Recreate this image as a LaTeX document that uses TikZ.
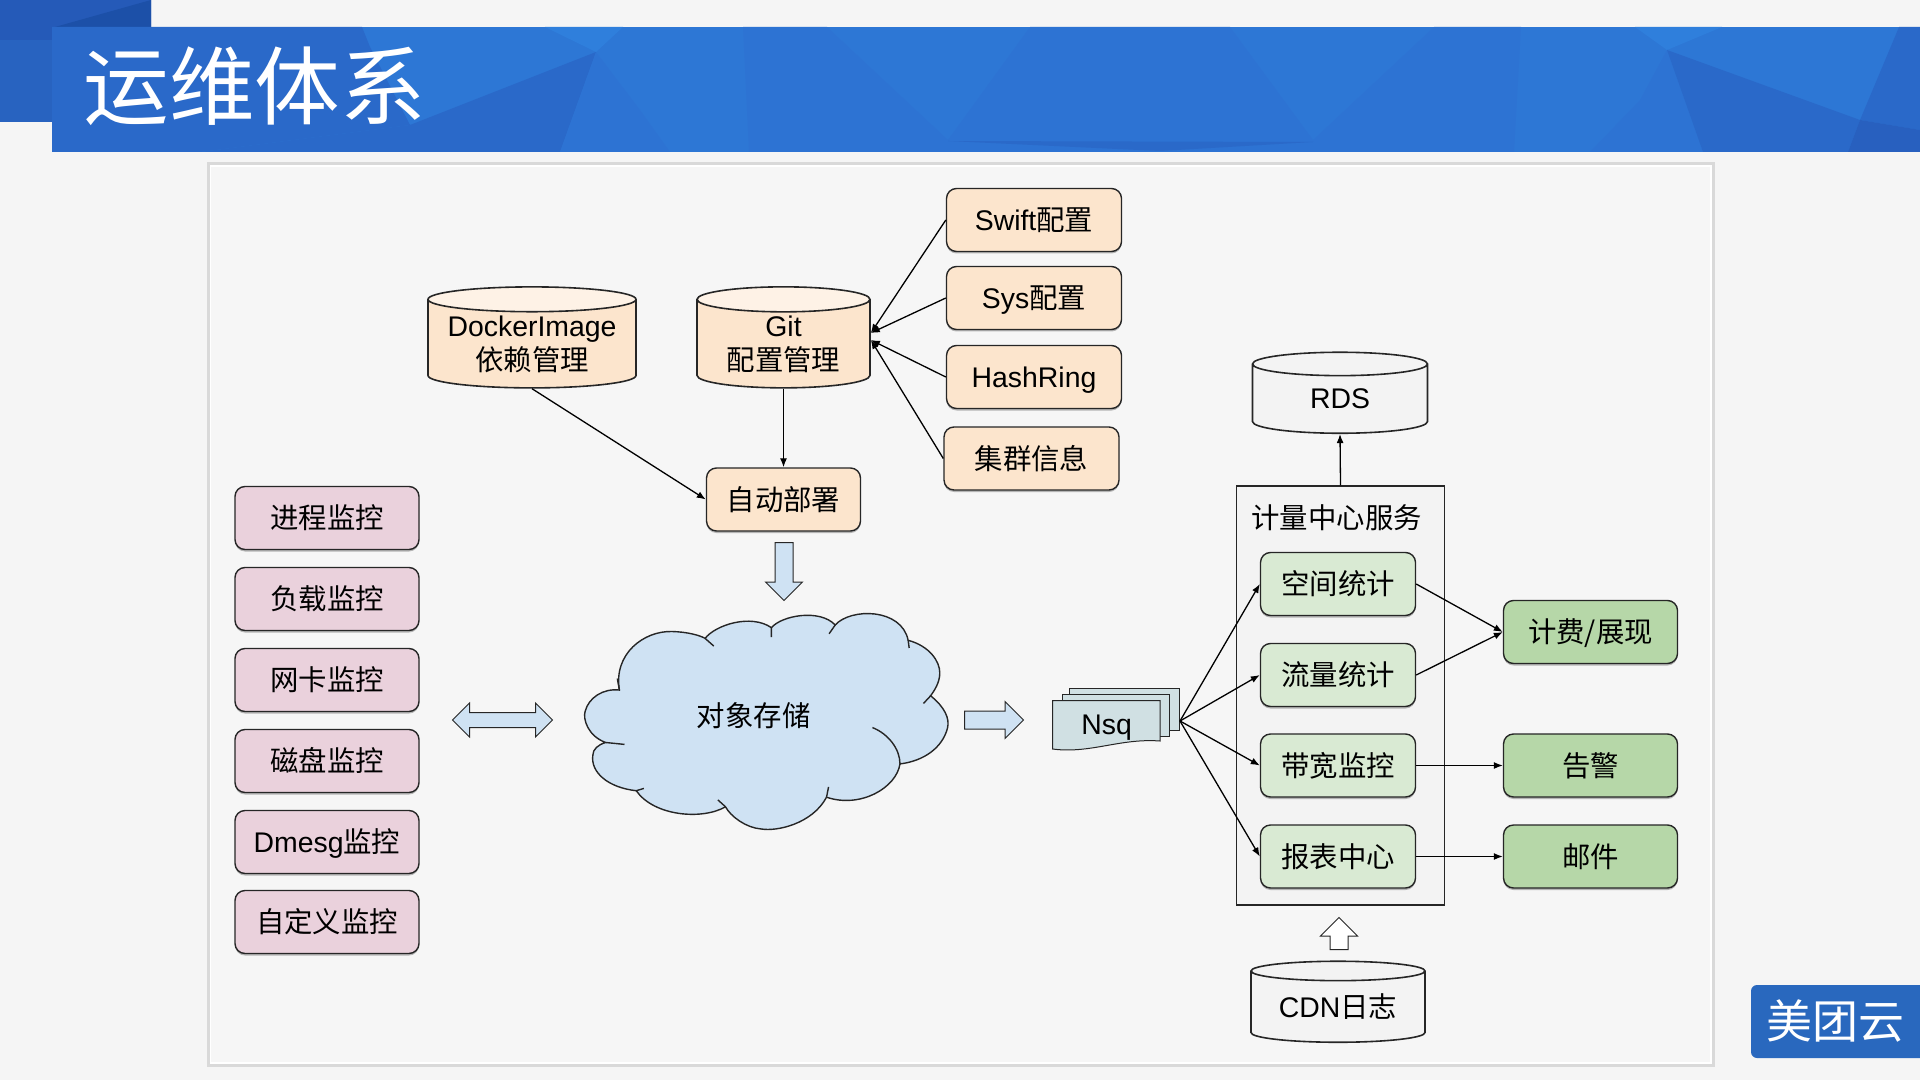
\documentclass[tikz,border=0pt]{standalone}
\usepackage{fontspec}
\setmainfont{Liberation Sans}
\newfontfamily\cjk{Noto Sans CJK SC}
\usepackage{xcolor}
\usetikzlibrary{arrows.meta}
\usetikzlibrary{positioning}
\usetikzlibrary{shapes.geometric,shapes.arrows}
\usetikzlibrary{shadows}
\definecolor{peach}{HTML}{FCE5CD}
\definecolor{peachtop}{HTML}{FEF2E6}
\definecolor{pink}{HTML}{EAD1DC}
\definecolor{lgreen}{HTML}{D9EAD3}
\definecolor{mgreen}{HTML}{B6D7A8}
\definecolor{lblue}{HTML}{CFE2F3}
\definecolor{nsqblue}{HTML}{D0E0E3}
\definecolor{lgray}{HTML}{F3F3F3}
\definecolor{banbase}{HTML}{2D77D5}
\definecolor{bandark}{HTML}{2A69C9}
\definecolor{banmid}{HTML}{2D73D3}
\definecolor{banlight}{HTML}{2F7FDC}
\definecolor{bandeep}{HTML}{2860BF}
\definecolor{cornera}{HTML}{255AB8}
\definecolor{cornerb}{HTML}{1C50A8}
\definecolor{cornerc}{HTML}{2863C0}
\tikzset{
  box_n/.style = {draw=black!85, rounded corners=5pt, align=center, inner sep=0pt,
    text height=12.3pt, text depth=1.7pt,
    font=\fontsize{14.2}{17}\selectfont, line width=.7pt,
    drop shadow={shadow xshift=0pt, shadow yshift=-1pt, opacity=.55}},
  cfg_n/.style = {box_n, fill=peach, minimum width=87.5pt, minimum height=31.5pt},
  mon_n/.style = {box_n, fill=pink, minimum width=92pt, minimum height=31.5pt},
  calc_n/.style = {box_n, fill=lgreen, minimum width=77.5pt, minimum height=31.5pt},
  out_n/.style = {box_n, fill=mgreen, minimum width=87pt, minimum height=31.5pt},
  db_n/.style = {draw=black!85, cylinder, shape border rotate=90, cylinder uses custom fill,
    align=center, inner sep=0pt, font=\fontsize{14.2}{17}\selectfont, line width=.8pt,
    minimum height=40.5pt},
  block_n/.style = {draw=black!85, fill=lblue, line width=.5pt, inner xsep=0pt, inner ysep=4.25pt,
    single arrow head extend=4.75pt, single arrow head indent=0pt},
  conn/.style = {line width=.65pt, -{Latex[length=4.5pt,width=3.5pt]}}
}
\begin{document}
\begin{tikzpicture}[x=.5pt,y=-.5pt]
\useasboundingbox (0,0) rectangle (1920,1080);
\fill[black!4] (0,0) rectangle (1920,1080);
% top banner
\fill[cornera] (0,0) rectangle (151,27) (0,27) rectangle (52,122);
\fill[cornerb] (55,27) -- (151,0) -- (151,27) -- cycle;
\fill[cornerc] (0,40) rectangle (52,122);
\fill[banbase] (52,27) rectangle (1920,152);
\begin{scope}
\clip (52,27) rectangle (1920,152);
\fill[bandark] (52,27) -- (362,27) -- (370,47) -- (410,125) -- (200,152) -- (52,152) -- cycle;
\fill[bandark] (596,52) -- (410,125) -- (200,152) -- (560,152) -- cycle;
\fill[banmid] (596,52) -- (560,152) -- (670,152) -- (640,110) -- cycle;
\fill[banlight] (545,27) -- (623,27) -- (596,52) -- cycle;
\fill[banmid] (743,27) -- (827,27) -- (948,140) -- (930,152) -- (749,152) -- cycle;
\fill[banmid] (1030,27) -- (1230,27) -- (1313,140) -- (1320,152) -- (930,152) -- (948,140) -- cycle;
\fill[bandark] (948,141) -- (1313,142) -- (1160,151) -- cycle;
\fill[banmid] (1434,27) -- (1521,27) -- (1514,152) -- (1320,152) -- (1313,140) -- cycle;
\fill[banlight] (1635,27) -- (1722,27) -- (1667,50) -- cycle;
\fill[banmid] (1667,50) -- (1703,152) -- (1590,152) -- (1640,100) -- cycle;
\fill[bandark] (1667,50) -- (1860,120) -- (1848,152) -- (1703,152) -- cycle;
\fill[bandark] (1899,27) -- (1920,27) -- (1920,130) -- (1860,120) -- cycle;
\fill[bandeep] (1860,120) -- (1920,130) -- (1920,152) -- (1848,152) -- cycle;
\end{scope}
\node[anchor=west, inner sep=0pt, white, font=\fontsize{42.8}{50}\cjk] (title) at (83,86) {运维体系};
% panel
\draw[black!15, line width=1.5pt, fill=white] (208,164) rectangle (1713,1065);
\fill[black!3.5] (211,167) rectangle (1710,1062);
% logo
\fill[banmid!90!black, rounded corners=3pt] (1751,985) rectangle (1940,1058);
\node[inner sep=0pt, white, font=\fontsize{23}{28}\cjk] (logo) at (1835,1021) {美团云};
% config part
\node[db_n, cylinder body fill=peach, cylinder end fill=peachtop, minimum width=104pt, minimum height=50.5pt, aspect=.147] (docker) at (532,344) {DockerImage\\{\cjk 依赖管理}};
\node[db_n, cylinder body fill=peach, cylinder end fill=peachtop, minimum width=86.5pt, minimum height=50.5pt, aspect=.22] (git) at (783.5,344) {Git\\{\cjk 配置管理}};
\node[cfg_n] (swift) at (1034,220) {Swift{\cjk 配置}};
\node[cfg_n] (sys) at (1034,298) {Sys{\cjk 配置}};
\node[cfg_n] (hash) at (1034,377) {HashRing};
\node[cfg_n] (cluster) at (1031.5,458.5) {\cjk 集群信息};
\node[cfg_n, minimum width=77pt] (deploy) at (783.5,499.5) {\cjk 自动部署};
\draw[conn] (swift.west) -- ([yshift=5.5pt]git.east);
\draw[conn] (sys.west) -- ([yshift=5.5pt]git.east);
\draw[conn] (hash.west) -- ([yshift=2pt]git.east);
\draw[conn] (cluster.west) -- ([yshift=2pt]git.east);
\draw[conn] (git.south) -- (deploy.north);
\draw[conn] (docker.south) -- (deploy.west);
\node[block_n, single arrow, rotate=-90, minimum height=29pt, minimum width=18pt] (down) at (784,567) {};
% monitor list
\foreach \i/\y/\name in {1/518/{\cjk 进程监控},2/599/{\cjk 负载监控},3/680/{\cjk 网卡监控},4/761/{\cjk 磁盘监控},5/842/Dmesg{\cjk 监控},6/922/{\cjk 自定义监控}}
  \node[mon_n] (mon\i) at (327,\y) {\name};
\node[block_n, double arrow, inner ysep=3.5pt, minimum height=50pt, minimum width=16.5pt, double arrow head extend=4.75pt, double arrow head indent=0pt] (both) at (502.5,720) {};
% cloud
\begin{scope}[shift={(200,470)},xscale=.5102,yscale=.3827]
\draw[fill=lblue, draw=black!85, line width=.7pt] (822,575) .. controls (810,480) and (870,420) .. (925,422)
  .. controls (955,423) and (980,432) .. (990,440)
  .. controls (1010,405) and (1080,375) .. (1120,412)
  .. controls (1140,380) and (1215,362) .. (1245,405)
  .. controls (1275,360) and (1375,360) .. (1388,445)
  .. controls (1430,460) and (1450,500) .. (1450,530)
  .. controls (1450,555) and (1440,575) .. (1432,590)
  .. controls (1460,620) and (1470,650) .. (1465,675)
  .. controls (1455,725) and (1420,760) .. (1372,768)
  .. controls (1365,830) and (1295,885) .. (1228,855)
  .. controls (1200,925) and (1130,945) .. (1100,938)
  .. controls (1070,935) and (1040,905) .. (1030,880)
  .. controls (985,915) and (890,905) .. (855,838)
  .. controls (800,830) and (765,790) .. (770,745)
  .. controls (770,730) and (780,718) .. (795,712)
  .. controls (760,695) and (750,650) .. (755,630)
  .. controls (762,595) and (790,570) .. (822,575) -- cycle;
\draw[draw=black!85, line width=.7pt] (990,440) -- (1007,460) (1120,412) -- (1120,437) (1245,405) -- (1233,428)
  (1388,445) -- (1390,465) (1432,590) -- (1418,610) (1318,673) .. controls (1350,690) and (1372,730) .. (1372,768)
  (1228,855) -- (1232,828) (1030,880) -- (1015,862) (855,838) -- (870,832) (795,712) -- (832,717) (822,575) -- (818,545);
\end{scope}
\node[inner sep=0pt, font=\fontsize{14.2}{17}\cjk] (store) at (753.6,716) {对象存储};
\node[block_n, single arrow, minimum height=29.5pt, minimum width=18pt] (toq) at (989.5,720) {};
% nsq pages
\filldraw[fill=nsqblue, draw=black!85, line width=.5pt] (1069,688) -- (1179,688) -- (1179,730) -- (1069,730) -- cycle;
\filldraw[fill=nsqblue, draw=black!85, line width=.5pt] (1062,694) -- (1169.6,694) -- (1169.6,736) -- (1062,736) -- cycle;
\filldraw[fill=nsqblue, draw=black!85, line width=.5pt] (1052.5,700.5) -- (1160,700.5) -- (1160,741) .. controls (1120,738) and (1090,754) .. (1052.5,749) -- cycle;
\node[inner sep=0pt, font=\fontsize{14.2}{17}\selectfont] (nsq) at (1106.7,728) {Nsq};
\coordinate (nsq_out) at (1180,721);
% metering center
\node[draw=black!85, fill=lgray, line width=.7pt, minimum width=104pt, minimum height=209.5pt, inner sep=0pt] (center) at (1340.5,695.5) {};
\node[inner sep=0pt, font=\fontsize{14.2}{17}\cjk] (centertitle) at (1336.6,518) {计量中心服务};
\node[calc_n] (space) at (1338,584) {\cjk 空间统计};
\node[calc_n] (flow) at (1338,675) {\cjk 流量统计};
\node[calc_n] (band) at (1338,765.5) {\cjk 带宽监控};
\node[calc_n] (report) at (1338,856.5) {\cjk 报表中心};
\node[out_n] (bill) at (1590.5,632) {\cjk 计费/展现};
\node[out_n] (alarm) at (1590.5,765.5) {\cjk 告警};
\node[out_n] (mail) at (1590.5,856.5) {\cjk 邮件};
\foreach \t in {space,flow,band,report}
  \draw[conn] (nsq_out) -- (\t.west);
\draw[conn] (space.east) -- (bill.west);
\draw[conn] (flow.east) -- (bill.west);
\draw[conn] (band.east) -- (alarm.west);
\draw[conn] (report.east) -- (mail.west);
\node[db_n, cylinder body fill=lgray, cylinder end fill=lgray, minimum width=87.5pt, aspect=.39] (rds) at (1340,399) {RDS};
\node[db_n, cylinder body fill=lgray, cylinder end fill=lgray, minimum width=87pt, aspect=.164] (cdn) at (1338,1007) {CDN{\cjk 日志}};
\draw[conn] (center.north) -- (rds.south);
\node[block_n, fill=white, single arrow, rotate=90, minimum height=16pt, minimum width=18pt] (up) at (1339,938) {};
\end{tikzpicture}
\end{document}
